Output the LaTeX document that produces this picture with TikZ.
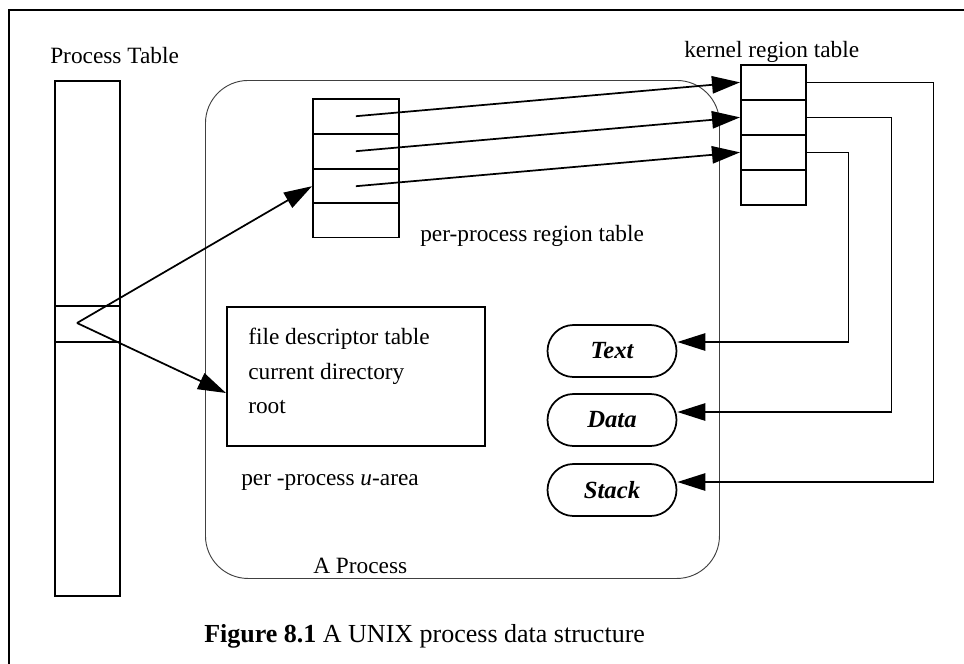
\documentclass[tikz,border=0pt]{standalone}
\usepackage{fontspec}
\setmainfont{Liberation Serif}
\usetikzlibrary{arrows.meta,shapes.misc,calc}
\begin{document}
\begin{tikzpicture}[x=0.75pt,y=-0.75pt,
  lbl/.style={font=\fontsize{17.5}{21}\selectfont, inner sep=0pt, anchor=base west},
  cell/.style={draw, line width=1.3pt, inner sep=0pt, anchor=north west},
  arr/.style={line width=1.3pt, -{Triangle[length=21pt,width=13pt]}},
  seg/.style={draw, rounded rectangle, line width=1.3pt, minimum width=96.75pt, minimum height=39pt, inner sep=0pt, font=\fontsize{18.5}{22}\selectfont\bfseries\itshape},
  procbox/.style={draw=black!75, line width=0.7pt, rounded corners=32pt, inner sep=0pt, anchor=north west}
]
\useasboundingbox (0,0) rectangle (964,664);
% partial frame
\draw[line width=2.2pt] (964,10) -- (9,10) -- (9,664);

% process table
\node[lbl] (ptl) at (50,63) {Process Table};
\node[cell, minimum width=48.75pt, minimum height=386.25pt] (ptab) at (54,80) {};
\node[cell, minimum width=48.75pt, minimum height=27pt] (slot) at (54,305) {};

% process box
\node[procbox, minimum width=385.5pt, minimum height=373.5pt] (proc) at (205,80) {};

% per-process region table
\node[cell, minimum width=64.5pt, minimum height=26pt] (pp1) at (312,98) {};
\node[cell, minimum width=64.5pt, minimum height=26pt] (pp2) at (312,133) {};
\node[cell, minimum width=64.5pt, minimum height=26pt] (pp3) at (312,168) {};
\node[cell, minimum width=64.5pt, minimum height=26pt] (pp4) at (312,202) {};
\node[lbl] (ppl) at (420,241) {per-process region table};

% kernel region table
\node[lbl] (kl) at (684,57) {kernel region table};
\node[cell, minimum width=48.75pt, minimum height=26.25pt] (k1) at (740,64) {};
\node[cell, minimum width=48.75pt, minimum height=26.25pt] (k2) at (740,99) {};
\node[cell, minimum width=48.75pt, minimum height=26.25pt] (k3) at (740,134) {};
\node[cell, minimum width=48.75pt, minimum height=26.25pt] (k4) at (740,169) {};

% u-area
\node[cell, minimum width=193.5pt, minimum height=104.25pt] (ua) at (226,306) {};
\node[lbl] (fd) at (248,344) {file descriptor table};
\node[lbl] (cd) at (248,379) {current directory};
\node[lbl] (rt) at (248,413) {root};
\node[lbl] (ual) at (241,485) {per -process \textit{u}-area};
\node[lbl] (apl) at (313,573) {A Process};

% segments
\node[seg] (tx) at (612,351) {Text};
\node[seg] (da) at (612,420) {Data};
\node[seg] (st) at (612,490) {Stack};

% caption
\node[lbl, font=\fontsize{19.5}{23}\selectfont] (cap) at (204,642) {\textbf{Figure 8.1} A UNIX process data structure};

% connectors
\coordinate (pv) at (77,323);
\draw[arr] (pv) -- (pp3.west);
\draw[arr] (pv) -- ($(ua.north west)+(0,87)$);
\draw[arr] (pp1.center) -- (k1.west);
\draw[arr] (pp2.center) -- (k2.west);
\draw[arr] (pp3.center) -- (k3.west);
\draw[arr] (k1.east) -| ($(st.east)+(256,-8)$) -- ($(st.east)+(0,-8)$);
\draw[arr] (k2.east) -| ($(da.east)+(214,-8)$) -- ($(da.east)+(0,-8)$);
\draw[arr] (k3.east) -| ($(tx.east)+(171,-9)$) -- ($(tx.east)+(0,-9)$);
\end{tikzpicture}
\end{document}
